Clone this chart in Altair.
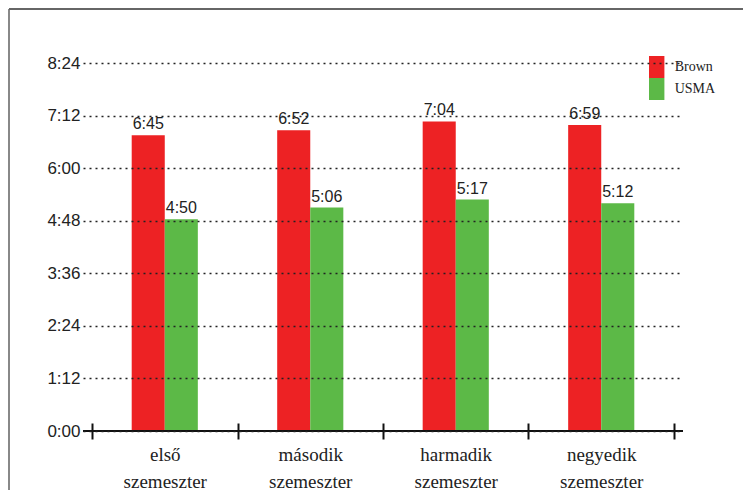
import altair as alt
import pandas as pd

semesters = ["első szemeszter", "második szemeszter", "harmadik szemeszter", "negyedik szemeszter"]
brown = ["6:45", "6:52", "7:04", "6:59"]
usma = ["4:50", "5:06", "5:17", "5:12"]
series = ["Brown", "USMA"]
colors = ["#ED2224", "#5CB947"]
y_ticks = [0, 72, 144, 216, 288, 360, 432, 504]


def to_min(s):
    h, m = s.split(":")
    return int(h) * 60 + int(m)


rows = []
for i, sem in enumerate(semesters):
    rows.append({"sem": sem, "series": "Brown", "minutes": to_min(brown[i]), "label": brown[i]})
    rows.append({"sem": sem, "series": "USMA", "minutes": to_min(usma[i]), "label": usma[i]})
df = pd.DataFrame(rows)

W, H = 600, 368

x_enc = alt.X(
    "sem:N",
    sort=semesters,
    title=None,
    scale=alt.Scale(paddingInner=0, paddingOuter=0.062),
    axis=alt.Axis(
        domain=False,
        tickBand="extent",
        tickSize=16,
        tickWidth=2,
        tickColor="#111",
        offset=-8,
        labelAngle=0,
        labelExpr="split(datum.label, ' ')",
        labelFont="Liberation Serif",
        labelFontSize=19,
        labelFontWeight="normal",
        labelLineHeight=27,
        labelColor="#222",
        labelPadding=6,
    ),
)
# two empty slots flank the pair of bars inside each semester band
offset_domain = ["_l"] + series + ["_r"]
xoff = alt.XOffset("series:N", scale=alt.Scale(domain=offset_domain, paddingOuter=0.2, paddingInner=0))
y_enc = alt.Y(
    "minutes:Q",
    title=None,
    scale=alt.Scale(domain=[0, 504], nice=False),
    axis=alt.Axis(
        values=y_ticks,
        domain=False,
        ticks=False,
        labelPadding=3,
        labelFont="Liberation Sans",
        labelFontSize=17,
        labelFontWeight="normal",
        labelColor="#222",
        labelExpr="floor(datum.value/60) + ':' + (datum.value % 60 < 10 ? '0' : '') + (datum.value % 60)",
        grid=True,
        gridDash=[2, 4],
        gridColor="#222",
        gridWidth=1.5,
        zindex=1,
    ),
)

base = alt.Chart(df)

bars = base.mark_bar().encode(
    x=x_enc,
    xOffset=xoff,
    y=y_enc,
    color=alt.Color(
        "series:N",
        scale=alt.Scale(domain=series, range=colors),
        legend=alt.Legend(
            title=None,
            orient="none",
            legendX=562.7,
            legendY=-7,
            symbolType="M-0.7,-1H0.7V1H-0.7Z",
            symbolSize=484,
            symbolStrokeWidth=0,
            labelFont="Liberation Serif",
            labelFontSize=14,
            labelFontWeight="normal",
            labelColor="#222",
            rowPadding=0,
            padding=0,
            labelOffset=7,
        ),
    ),
)

texts = base.mark_text(baseline="bottom", dy=-3, font="Liberation Sans", fontSize=16, color="#222").encode(
    x=alt.X("sem:N", sort=semesters),
    xOffset=alt.XOffset("series:N"),
    y=alt.Y("minutes:Q"),
    text="label:N",
)

zero_line = alt.Chart(pd.DataFrame({"v": [0]})).mark_rule(color="#111", strokeWidth=2).encode(y=alt.Y("v:Q"))

left_border = alt.Chart(pd.DataFrame({"v": [0]})).mark_rule(color="#888", strokeWidth=2).encode(
    x=alt.value(-74), y=alt.value(-54), y2=alt.value(427)
)
top_border = alt.Chart(pd.DataFrame({"v": [0]})).mark_rule(color="#666", strokeWidth=2).encode(
    y=alt.value(-54), x=alt.value(-74), x2=alt.value(660)
)

chart = alt.layer(bars, texts, zero_line, left_border, top_border).properties(
    width=W, height=H, padding=0
).configure_view(stroke=None)

chart.save("out.html", embed_options={"renderer": "svg", "actions": False})
